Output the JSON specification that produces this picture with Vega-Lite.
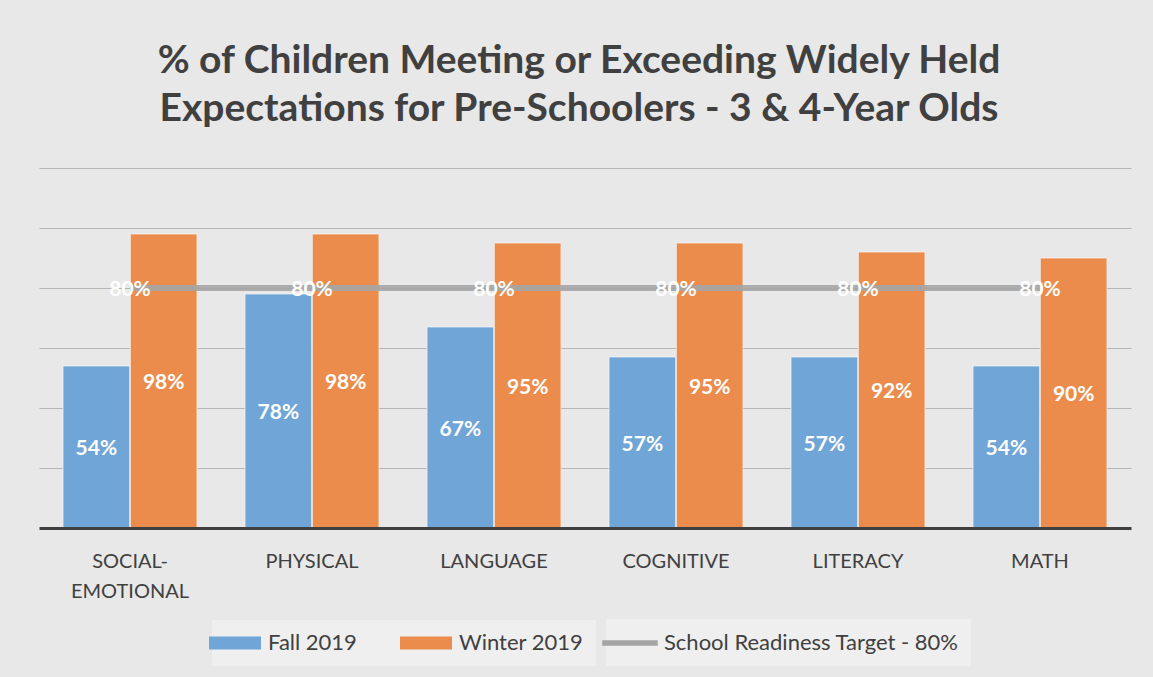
{
  "$schema": "https://vega.github.io/schema/vega-lite/v6.json",
  "width": 1092,
  "height": 360,
  "autosize": {"type": "none"},
  "padding": {"left": 39, "top": 168, "right": 22, "bottom": 149},
  "background": "#e8e8e8",
  "config": {"view": {"stroke": null}, "font": "Lato"},
  "title": {
    "text": ["% of Children Meeting or Exceeding Widely Held", "Expectations for Pre-Schoolers - 3 & 4-Year Olds"],
    "font": "Lato",
    "fontSize": 39,
    "fontWeight": "bold",
    "color": "#404040",
    "lineHeight": 48,
    "anchor": "middle",
    "frame": "group",
    "dx": -6,
    "offset": 39
  },
  "data": {
    "values": [
      {"category": "SOCIAL-EMOTIONAL", "series": "Fall 2019", "value": 0.54},
      {"category": "SOCIAL-EMOTIONAL", "series": "Winter 2019", "value": 0.98},
      {"category": "SOCIAL-EMOTIONAL", "series": "School Readiness Target - 80%", "value": 0.8},
      {"category": "PHYSICAL", "series": "Fall 2019", "value": 0.78},
      {"category": "PHYSICAL", "series": "Winter 2019", "value": 0.98},
      {"category": "PHYSICAL", "series": "School Readiness Target - 80%", "value": 0.8},
      {"category": "LANGUAGE", "series": "Fall 2019", "value": 0.67},
      {"category": "LANGUAGE", "series": "Winter 2019", "value": 0.95},
      {"category": "LANGUAGE", "series": "School Readiness Target - 80%", "value": 0.8},
      {"category": "COGNITIVE", "series": "Fall 2019", "value": 0.57},
      {"category": "COGNITIVE", "series": "Winter 2019", "value": 0.95},
      {"category": "COGNITIVE", "series": "School Readiness Target - 80%", "value": 0.8},
      {"category": "LITERACY", "series": "Fall 2019", "value": 0.57},
      {"category": "LITERACY", "series": "Winter 2019", "value": 0.92},
      {"category": "LITERACY", "series": "School Readiness Target - 80%", "value": 0.8},
      {"category": "MATH", "series": "Fall 2019", "value": 0.54},
      {"category": "MATH", "series": "Winter 2019", "value": 0.90},
      {"category": "MATH", "series": "School Readiness Target - 80%", "value": 0.8}
    ]
  },
  "layer": [
    {
      "transform": [{"filter": "datum.series != 'School Readiness Target - 80%'"}],
      "mark": {"type": "bar", "stroke": "#f7f7f7", "strokeWidth": 1, "strokeOpacity": 0.7},
      "encoding": {
        "x": {
          "field": "category", "type": "nominal",
          "sort": ["SOCIAL-EMOTIONAL", "PHYSICAL", "LANGUAGE", "COGNITIVE", "LITERACY", "MATH"],
          "scale": {"paddingInner": 0.264, "paddingOuter": 0.132},
          "axis": {
            "title": null, "labelAngle": 0, "ticks": false, "grid": false,
            "domainColor": "#404040", "domainWidth": 3, "zindex": 1,
            "labelFont": "Lato", "labelFontSize": 20, "labelColor": "#404040",
            "labelPadding": 23, "labelLineHeight": 30,
            "labelExpr": "datum.value == 'SOCIAL-EMOTIONAL' ? ['SOCIAL-', 'EMOTIONAL'] : datum.value"
          }
        },
        "xOffset": {"field": "series", "type": "nominal", "sort": ["Fall 2019", "Winter 2019"], "scale": {"paddingInner": 0.01}},
        "y": {
          "field": "value", "type": "quantitative",
          "scale": {"domain": [0, 1.2]},
          "axis": {"values": [0.2, 0.4, 0.6, 0.8, 1.0, 1.2], "grid": true, "labels": false, "ticks": false, "domain": false, "title": null, "gridColor": "#b5b5b5", "gridWidth": 1}
        },
        "color": {
          "field": "series", "type": "nominal",
          "scale": {"domain": ["Fall 2019", "Winter 2019"], "range": ["#6fa5d7", "#ec8c4c"]},
          "legend": {
            "orient": "none", "legendX": 173, "legendY": 452,
            "direction": "horizontal", "title": null,
            "fillColor": "#efefef", "padding": 12,
            "labelFont": "Lato", "labelFontSize": 22, "labelColor": "#404040", "labelLimit": 400,
            "symbolType": "M-2.6,-0.65H2.6V0.65H-2.6Z",
            "symbolSize": 400, "labelOffset": 22, "columnPadding": 43,
            "symbolStrokeWidth": 0, "symbolOpacity": 1
          }
        }
      }
    },
    {
      "transform": [{"filter": "datum.series == 'School Readiness Target - 80%'"}],
      "mark": {"type": "line", "strokeWidth": 6, "opacity": 0.9},
      "encoding": {
        "x": {"field": "category", "type": "nominal", "sort": ["SOCIAL-EMOTIONAL", "PHYSICAL", "LANGUAGE", "COGNITIVE", "LITERACY", "MATH"]},
        "y": {"field": "value", "type": "quantitative", "scale": {"domain": [0, 1.2]}, "axis": null},
        "stroke": {
          "field": "series", "type": "nominal",
          "scale": {"domain": ["School Readiness Target - 80%"], "range": ["#a5a5a5"]},
          "legend": {
            "orient": "none", "legendX": 567, "legendY": 451,
            "direction": "horizontal", "title": null,
            "fillColor": "#efefef", "padding": 12,
            "labelFont": "Lato", "labelFontSize": 22, "labelColor": "#404040", "labelLimit": 400,
            "symbolType": "M-2.6,-0.1H2.6V0.1H-2.6Z",
            "symbolSize": 400, "labelOffset": 22,
            "symbolStrokeWidth": 3.5, "symbolOpacity": 1, "symbolFillColor": "#a5a5a5"
          }
        }
      }
    },
    {
      "transform": [{"filter": "datum.series == 'School Readiness Target - 80%'"}],
      "mark": {"type": "text", "color": "white", "fontWeight": "bold", "fontSize": 21, "font": "Lato", "baseline": "middle", "dy": 2},
      "encoding": {
        "x": {"field": "category", "type": "nominal", "sort": ["SOCIAL-EMOTIONAL", "PHYSICAL", "LANGUAGE", "COGNITIVE", "LITERACY", "MATH"]},
        "y": {"field": "value", "type": "quantitative", "scale": {"domain": [0, 1.2]}, "axis": null},
        "text": {"field": "value", "type": "quantitative", "format": ".0%"}
      }
    },
    {
      "transform": [{"filter": "datum.series != 'School Readiness Target - 80%'"}],
      "mark": {"type": "text", "color": "white", "fontWeight": "bold", "fontSize": 21, "font": "Lato", "baseline": "middle", "dy": 2},
      "encoding": {
        "x": {"field": "category", "type": "nominal", "sort": ["SOCIAL-EMOTIONAL", "PHYSICAL", "LANGUAGE", "COGNITIVE", "LITERACY", "MATH"]},
        "xOffset": {"field": "series", "type": "nominal", "sort": ["Fall 2019", "Winter 2019"]},
        "y": {"field": "value", "type": "quantitative", "scale": {"domain": [0, 2.4]}, "axis": null},
        "text": {"field": "value", "type": "quantitative", "format": ".0%"}
      }
    }
  ],
  "resolve": {"scale": {"y": "independent"}}
}
